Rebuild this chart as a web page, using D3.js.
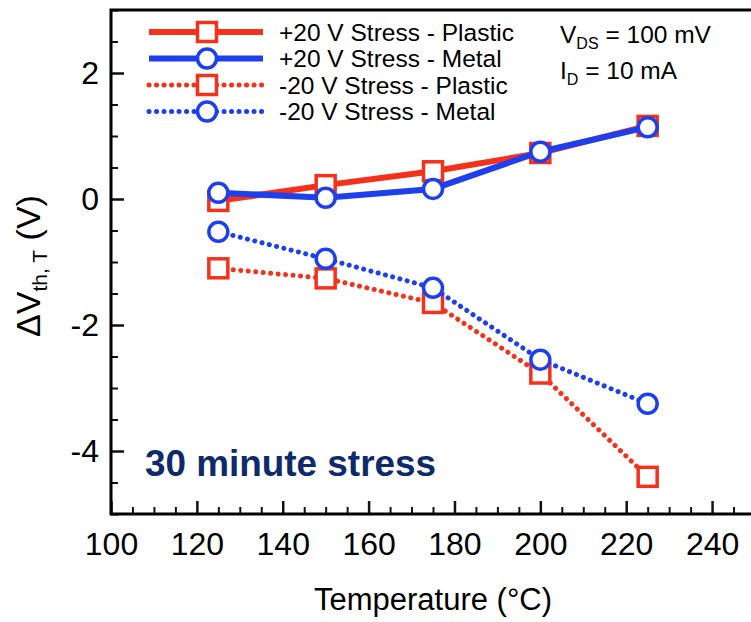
<!DOCTYPE html>
<html>
<head>
<meta charset="utf-8">
<script src="https://cdn.jsdelivr.net/npm/d3@7"></script>
<style>
  body { margin: 0; background: #fff; }
  svg { display: block; font-family: "Liberation Sans", Arial, Helvetica, sans-serif; }
</style>
</head>
<body>
<div id="chart-area"></div>
<script>
// data
const temps = [125, 150, 175, 200, 225];
const posPlastic = [-0.03, 0.22, 0.44, 0.73, 1.16];
const posMetal = [0.10, 0.02, 0.16, 0.75, 1.14];
const negPlastic = [-1.10, -1.26, -1.65, -2.77, -4.41];
const negMetal = [-0.52, -0.95, -1.41, -2.55, -3.25];

const xMajor = [100, 120, 140, 160, 180, 200, 220, 240];
const yMajor = [-4, -2, 0, 2];

const RED = "#f4321c";
const BLUE = "#1d3fee";

const series = [
  { name: "+20 V Stress - Plastic", values: posPlastic, color: RED, dotted: false, marker: "square" },
  { name: "+20 V Stress - Metal", values: posMetal, color: BLUE, dotted: false, marker: "circle" },
  { name: "-20 V Stress - Plastic", values: negPlastic, color: RED, dotted: true, marker: "square" },
  { name: "-20 V Stress - Metal", values: negMetal, color: BLUE, dotted: true, marker: "circle" }
];

const W = 751, H = 622;
const MARGIN = { LEFT: 111, TOP: 10, BOTTOM: 108 };

const svg = d3.select("#chart-area").append("svg")
  .attr("width", W)
  .attr("height", H);

const x = d3.scaleLinear().domain([100, 250]).range([MARGIN.LEFT, 755]);
const y = d3.scaleLinear().domain([-5, 3]).range([H - MARGIN.BOTTOM, MARGIN.TOP]);

const xMinor = d3.range(100, 251, 5).filter(v => !xMajor.includes(v));
const yMinor = d3.range(-5, 3.01, 0.5).filter(v => !yMajor.includes(v));

// minor ticks
svg.append("g")
  .attr("transform", `translate(0,${y(-5)})`)
  .call(d3.axisBottom(x).tickValues(xMinor).tickSize(-7).tickFormat(""))
  .call(g => g.select(".domain").remove())
  .call(g => g.selectAll("line").attr("stroke", "#111").attr("stroke-width", 2));

svg.append("g")
  .attr("transform", `translate(${x(100)},0)`)
  .call(d3.axisLeft(y).tickValues(yMinor).tickSize(-7).tickFormat(""))
  .call(g => g.select(".domain").remove())
  .call(g => g.selectAll("line").attr("stroke", "#111").attr("stroke-width", 2));

// major ticks + labels
svg.append("g")
  .attr("transform", `translate(0,${y(-5)})`)
  .call(d3.axisBottom(x).tickValues(xMajor).tickSize(-13).tickPadding(18).tickFormat(d => String(d)))
  .call(g => g.select(".domain").remove())
  .call(g => g.selectAll("line").attr("stroke", "#111").attr("stroke-width", 2.5))
  .call(g => g.selectAll("text").attr("fill", "#000").attr("font-size", "32px")
    .attr("font-family", "'Liberation Sans', Arial, sans-serif"));

svg.append("g")
  .attr("transform", `translate(${x(100)},0)`)
  .call(d3.axisLeft(y).tickValues(yMajor).tickSize(-13).tickPadding(12).tickFormat(d => String(d)))
  .call(g => g.select(".domain").remove())
  .call(g => g.selectAll("line").attr("stroke", "#111").attr("stroke-width", 2.5))
  .call(g => g.selectAll("text").attr("fill", "#000").attr("font-size", "32px")
    .attr("font-family", "'Liberation Sans', Arial, sans-serif"));

// frame
svg.append("rect")
  .attr("x", x(100))
  .attr("y", y(3))
  .attr("width", x(250) - x(100))
  .attr("height", y(-5) - y(3))
  .attr("fill", "none")
  .attr("stroke", "#000")
  .attr("stroke-width", 3);

// axis titles
svg.append("text")
  .attr("x", (x(100) + x(250)) / 2)
  .attr("y", 610)
  .attr("text-anchor", "middle")
  .attr("font-size", "31px")
  .text("Temperature (°C)");

const yTitle = svg.append("text")
  .attr("transform", `translate(40,${(y(3) + y(-5)) / 2 + 4}) rotate(-90)`)
  .attr("text-anchor", "middle")
  .attr("font-size", "34px");
yTitle.append("tspan").text("ΔV");
yTitle.append("tspan").attr("font-size", "21px").attr("dy", 7).text("th, T");
yTitle.append("tspan").attr("dy", -7).text(" (V)");

// annotation
svg.append("text")
  .attr("x", 145)
  .attr("y", 476)
  .attr("font-size", "36px")
  .attr("font-weight", "bold")
  .attr("fill", "#0d2a6b")
  .attr("textLength", 291)
  .attr("lengthAdjust", "spacingAndGlyphs")
  .text("30 minute stress");

const cond1 = svg.append("text").attr("x", 560).attr("y", 43).attr("font-size", "24.5px");
cond1.append("tspan").text("V");
cond1.append("tspan").attr("font-size", "16px").attr("dy", 6).text("DS");
cond1.append("tspan").attr("dy", -6).text(" = 100 mV");

const cond2 = svg.append("text").attr("x", 560).attr("y", 79).attr("font-size", "24.5px");
cond2.append("tspan").text("I");
cond2.append("tspan").attr("font-size", "16px").attr("dy", 6).text("D");
cond2.append("tspan").attr("dy", -6).text(" = 10 mA");

// series
const line = d3.line()
  .x((d, i) => x(temps[i]))
  .y(d => y(d));

function styleLine(sel, s) {
  sel.attr("fill", "none")
    .attr("stroke", s.color)
    .attr("stroke-width", s.dotted ? 5 : 6)
    .attr("stroke-linecap", s.dotted ? "round" : "butt")
    .attr("stroke-dasharray", s.dotted ? "0.1 7.4" : null);
}

function drawMarker(g, s, cx, cy) {
  if (s.marker === "square") {
    g.append("rect")
      .attr("x", cx - 9.5).attr("y", cy - 9.5)
      .attr("width", 19).attr("height", 19)
      .attr("fill", "#fff")
      .attr("stroke", s.color)
      .attr("stroke-width", 3.5);
  } else {
    g.append("circle")
      .attr("cx", cx).attr("cy", cy)
      .attr("r", 9.5)
      .attr("fill", "#fff")
      .attr("stroke", s.color)
      .attr("stroke-width", 3.5);
  }
}

// dotted series first, then solid; plastic before metal
[2, 3, 0, 1].forEach(k => {
  const s = series[k];
  const g = svg.append("g");
  g.append("path").datum(s.values).attr("d", line).call(styleLine, s);
  s.values.forEach((v, i) => drawMarker(g, s, x(temps[i]), y(v)));
});

// legend
const legend = svg.append("g");
series.forEach((s, i) => {
  const cy = 32 + i * 26.5;
  const row = legend.append("g");
  row.append("line")
    .attr("x1", 149).attr("x2", 263)
    .attr("y1", cy).attr("y2", cy)
    .call(styleLine, s);
  drawMarker(row, s, 207, cy);
  row.append("text")
    .attr("x", 279)
    .attr("y", cy + 8.5)
    .attr("font-size", "24.5px")
    .text(s.name);
});
</script>
</body>
</html>
